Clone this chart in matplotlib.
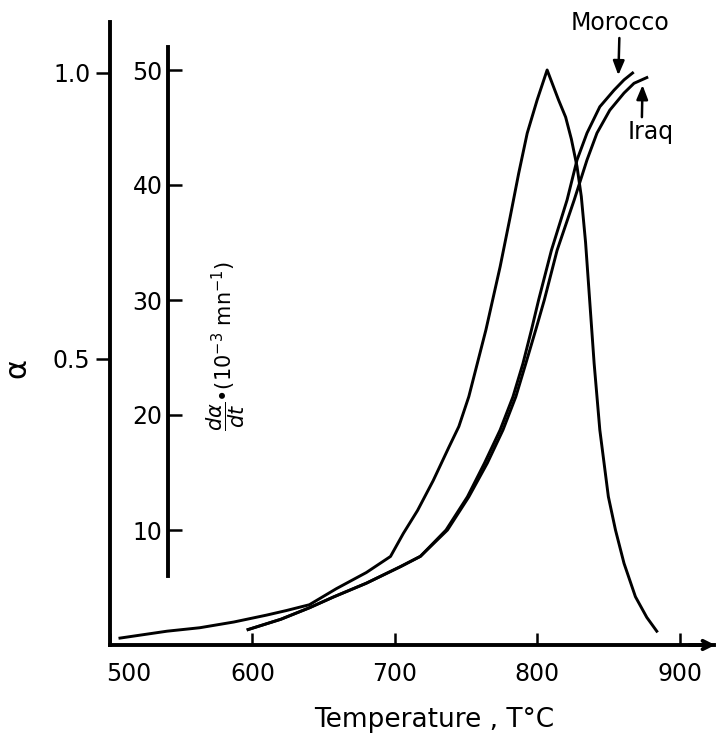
import matplotlib.pyplot as plt
import matplotlib.transforms as mtransforms

# d(alpha)/dt curve (10^-3 mn^-1) vs temperature
temp_rate = [507, 540, 563, 587, 610, 624, 640, 659, 680, 697, 706, 716, 727, 738, 745,
             752, 758, 764, 774, 781, 787, 793, 800, 807, 811, 815, 820, 824, 828, 831,
             834, 836, 838, 840, 842, 844, 847, 850, 855, 861, 869, 877, 884]
rate = [0.6, 1.2, 1.5, 2.0, 2.6, 3.0, 3.5, 4.9, 6.3, 7.7, 9.7, 11.7, 14.3, 17.2, 19.0,
        21.6, 24.5, 27.4, 32.9, 37.2, 41.0, 44.5, 47.4, 50.0, 48.7, 47.4, 45.9, 44.0, 41.6, 39.0,
        35.0, 31.5, 28.0, 24.5, 21.6, 18.7, 15.8, 12.9, 10.0, 7.1, 4.2, 2.4, 1.2]

# conversion fraction alpha vs temperature
temp_morocco = [597, 620, 640, 657, 680, 704, 718, 736, 751, 763, 774, 783, 790, 796,
                801, 810, 821, 828, 835, 844, 854, 861, 867]
alpha_morocco = [0.027, 0.045, 0.065, 0.084, 0.108, 0.137, 0.155, 0.201, 0.259, 0.318,
                 0.376, 0.434, 0.492, 0.551, 0.603, 0.690, 0.778, 0.848, 0.895, 0.941,
                 0.970, 0.988, 1.0]
temp_iraq = [597, 620, 640, 657, 680, 704, 718, 737, 752, 765, 776, 785, 792, 799,
             805, 814, 826, 835, 842, 851, 861, 868, 877]
alpha_iraq = [0.027, 0.045, 0.065, 0.084, 0.108, 0.137, 0.155, 0.201, 0.259, 0.318,
              0.376, 0.434, 0.492, 0.551, 0.603, 0.690, 0.778, 0.848, 0.895, 0.935,
              0.965, 0.982, 0.992]

x_ticks = [500, 600, 700, 800, 900]
alpha_ticks = [0.5, 1.0]
alpha_ticklabels = ["0.5", "1.0"]
rate_ticks = [10, 20, 30, 40, 50]

W, H = 718, 735
fig = plt.figure(figsize=(W / 100, H / 100), dpi=100)
x0, y0, ytop = 110, 645, 22
ax = fig.add_axes([x0 / W, 1 - y0 / H, (W - x0) / W, (y0 - ytop) / H])
alpha_top = (y0 - ytop) / 572.0
rate_per_alpha = 572.0 / 11.5

ax.set_xlim(500, 927)
ax.set_ylim(0, alpha_top)
ax.plot(temp_morocco, alpha_morocco, color="black", lw=2.1)
ax.plot(temp_iraq, alpha_iraq, color="black", lw=2.1)

for s in ["top", "right"]:
    ax.spines[s].set_visible(False)
ax.spines["left"].set_linewidth(2.8)
ax.spines["bottom"].set_linewidth(2.8)
ax.spines["bottom"].set_bounds(500, 924)

ax.set_xticks(x_ticks)
ax.set_xticklabels([str(t) for t in x_ticks])
ax.set_yticks(alpha_ticks)
ax.set_yticklabels(alpha_ticklabels)
ax.tick_params(axis="x", direction="in", length=9, width=1.8, pad=12, labelsize=17)
ax.tick_params(axis="y", direction="out", length=10, width=1.8, pad=4, labelsize=17)

# shift the first x label right as in the original
lbl = ax.get_xticklabels()[0]
lbl.set_transform(lbl.get_transform() + mtransforms.ScaledTranslation(0.19, 0, fig.dpi_scale_trans))

# arrow head on x axis
ax.annotate("", xy=(927, 0), xytext=(905, 0),
            arrowprops=dict(arrowstyle="->,head_length=0.6,head_width=0.3", lw=2.8, color="black"),
            annotation_clip=False)

# second axis for d(alpha)/dt
ax2 = ax.twinx()
ax2.set_ylim(0, alpha_top * rate_per_alpha)
ax2.plot(temp_rate, rate, color="black", lw=2.1)
for s in ["top", "right", "bottom"]:
    ax2.spines[s].set_visible(False)
ax2.spines["left"].set_visible(True)
ax2.spines["left"].set_position(("axes", (168 - x0) / (W - x0)))
ax2.spines["left"].set_bounds(6, 52)
ax2.spines["left"].set_linewidth(2.8)
ax2.yaxis.set_ticks_position("left")
ax2.set_yticks(rate_ticks)
ax2.tick_params(axis="y", direction="in", length=10, width=1.8, pad=4, labelsize=17)

ax.text(0.533, -0.1, "Temperature , T°C", transform=ax.transAxes,
        ha="center", va="top", fontsize=19)
ax.text(-0.153, 0.445, "α", transform=ax.transAxes, rotation=90,
        ha="center", va="center", fontsize=22)
ax.text(0.19, 0.48, r"$\dfrac{d\alpha}{dt}$" + "•" + r"$(10^{-3}\ \mathrm{mn}^{-1})$",
        transform=ax.transAxes, rotation=90, ha="center", va="center", fontsize=15)

ax.annotate("Morocco", xy=(857, 0.996), xytext=(858, 1.087), ha="center", va="center",
            fontsize=17, arrowprops=dict(arrowstyle="-|>,head_length=0.5,head_width=0.2",
                                         lw=1.8, color="black", shrinkA=0, shrinkB=0),
            annotation_clip=False)
ax.annotate("Iraq", xy=(874, 0.979), xytext=(880, 0.897), ha="center", va="center",
            fontsize=17, arrowprops=dict(arrowstyle="-|>,head_length=0.5,head_width=0.2",
                                         lw=1.8, color="black", shrinkA=0, shrinkB=0,
                                         relpos=(0.3, 1.0)),
            annotation_clip=False)

fig.savefig("out.png", dpi=100)
